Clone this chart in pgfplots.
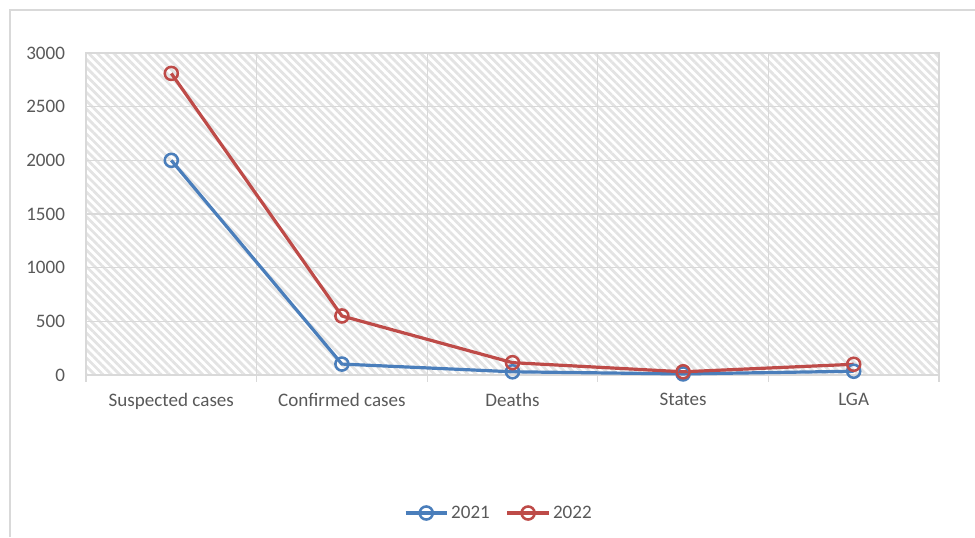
\documentclass[border=0pt]{standalone}
\usepackage{pgfplots}
\pgfplotsset{compat=1.18}
\usepackage{fontspec}
\setmainfont{Carlito}
\usetikzlibrary{patterns.meta}
\definecolor{sblue}{HTML}{4A7EBB}
\definecolor{sred}{HTML}{BE4B48}
\definecolor{gridc}{HTML}{D9D9D9}
\definecolor{txt}{HTML}{595959}
\begin{document}
\begin{tikzpicture}[x=1pt,y=1pt]
\path[use as bounding box] (0,0) rectangle (731.25,402.75);
\draw[gridc, line width=0.9pt] (7.5,0) -- (7.5,395.25) -- (731.25,395.25);
\begin{axis}[
  at={(64.5pt,121.5pt)}, anchor=south west,
  scale only axis, width=639.75pt, height=241.5pt,
  xmin=-0.5, xmax=4.5, ymin=0, ymax=3000,
  xtick={0,1,2,3,4},
  xticklabels={Suspected cases, Confirmed cases, Deaths, States, LGA},
  minor xtick={-0.5,0.5,1.5,2.5,3.5,4.5},
  ytick={0,500,1000,1500,2000,2500,3000},
  xtick pos=bottom, ytick pos=left,
  major x tick style={draw=none},
  minor tick length=5pt,
  minor x tick style={gridc, line width=0.8pt},
  every tick/.style={gridc},
  tick align=outside,
  ytick style={draw=none},
  xminorgrids=true, ymajorgrids=true,
  grid style={gridc, line width=0.8pt},
  axis line style={gridc, line width=0.8pt},
  axis background/.style={pattern={Lines[angle=-45,distance=4.4pt,line width=2.1pt]}, pattern color=black!11},
  ticklabel style={font=\fontsize{14.3}{17}\selectfont, text=txt},
  yticklabel style={xshift=-8pt},
  xticklabel style={yshift=-6pt},
  /pgf/number format/assume math mode=true,
  /pgf/number format/1000 sep={},
  legend style={at={(rel axis cs:0.5,0)}, anchor=center, draw=none, fill=none,
    legend columns=2, font=\fontsize{14.3}{17}\selectfont, text=txt,
    /tikz/every even column/.append style={column sep=10pt},
    yshift=-103.5pt, xshift=-10pt},
  legend image code/.code={
    \draw[#1, mark=none] (0pt,0pt) -- (31pt,0pt);
    \draw[#1, only marks] plot coordinates {(15.5pt,0pt)};
  },
]
\addplot[sblue, line width=2.4pt, mark=o, mark size=4.9pt, mark options={fill=white, line width=1.9pt}]
  coordinates {(0,2000) (1,102) (2,30) (3,10) (4,35)};
\addplot[sred, line width=2.4pt, mark=o, mark size=4.9pt, mark options={fill=white, line width=1.9pt}]
  coordinates {(0,2810) (1,550) (2,115) (3,30) (4,100)};
\legend{2021, 2022}
\end{axis}
\end{tikzpicture}
\end{document}
